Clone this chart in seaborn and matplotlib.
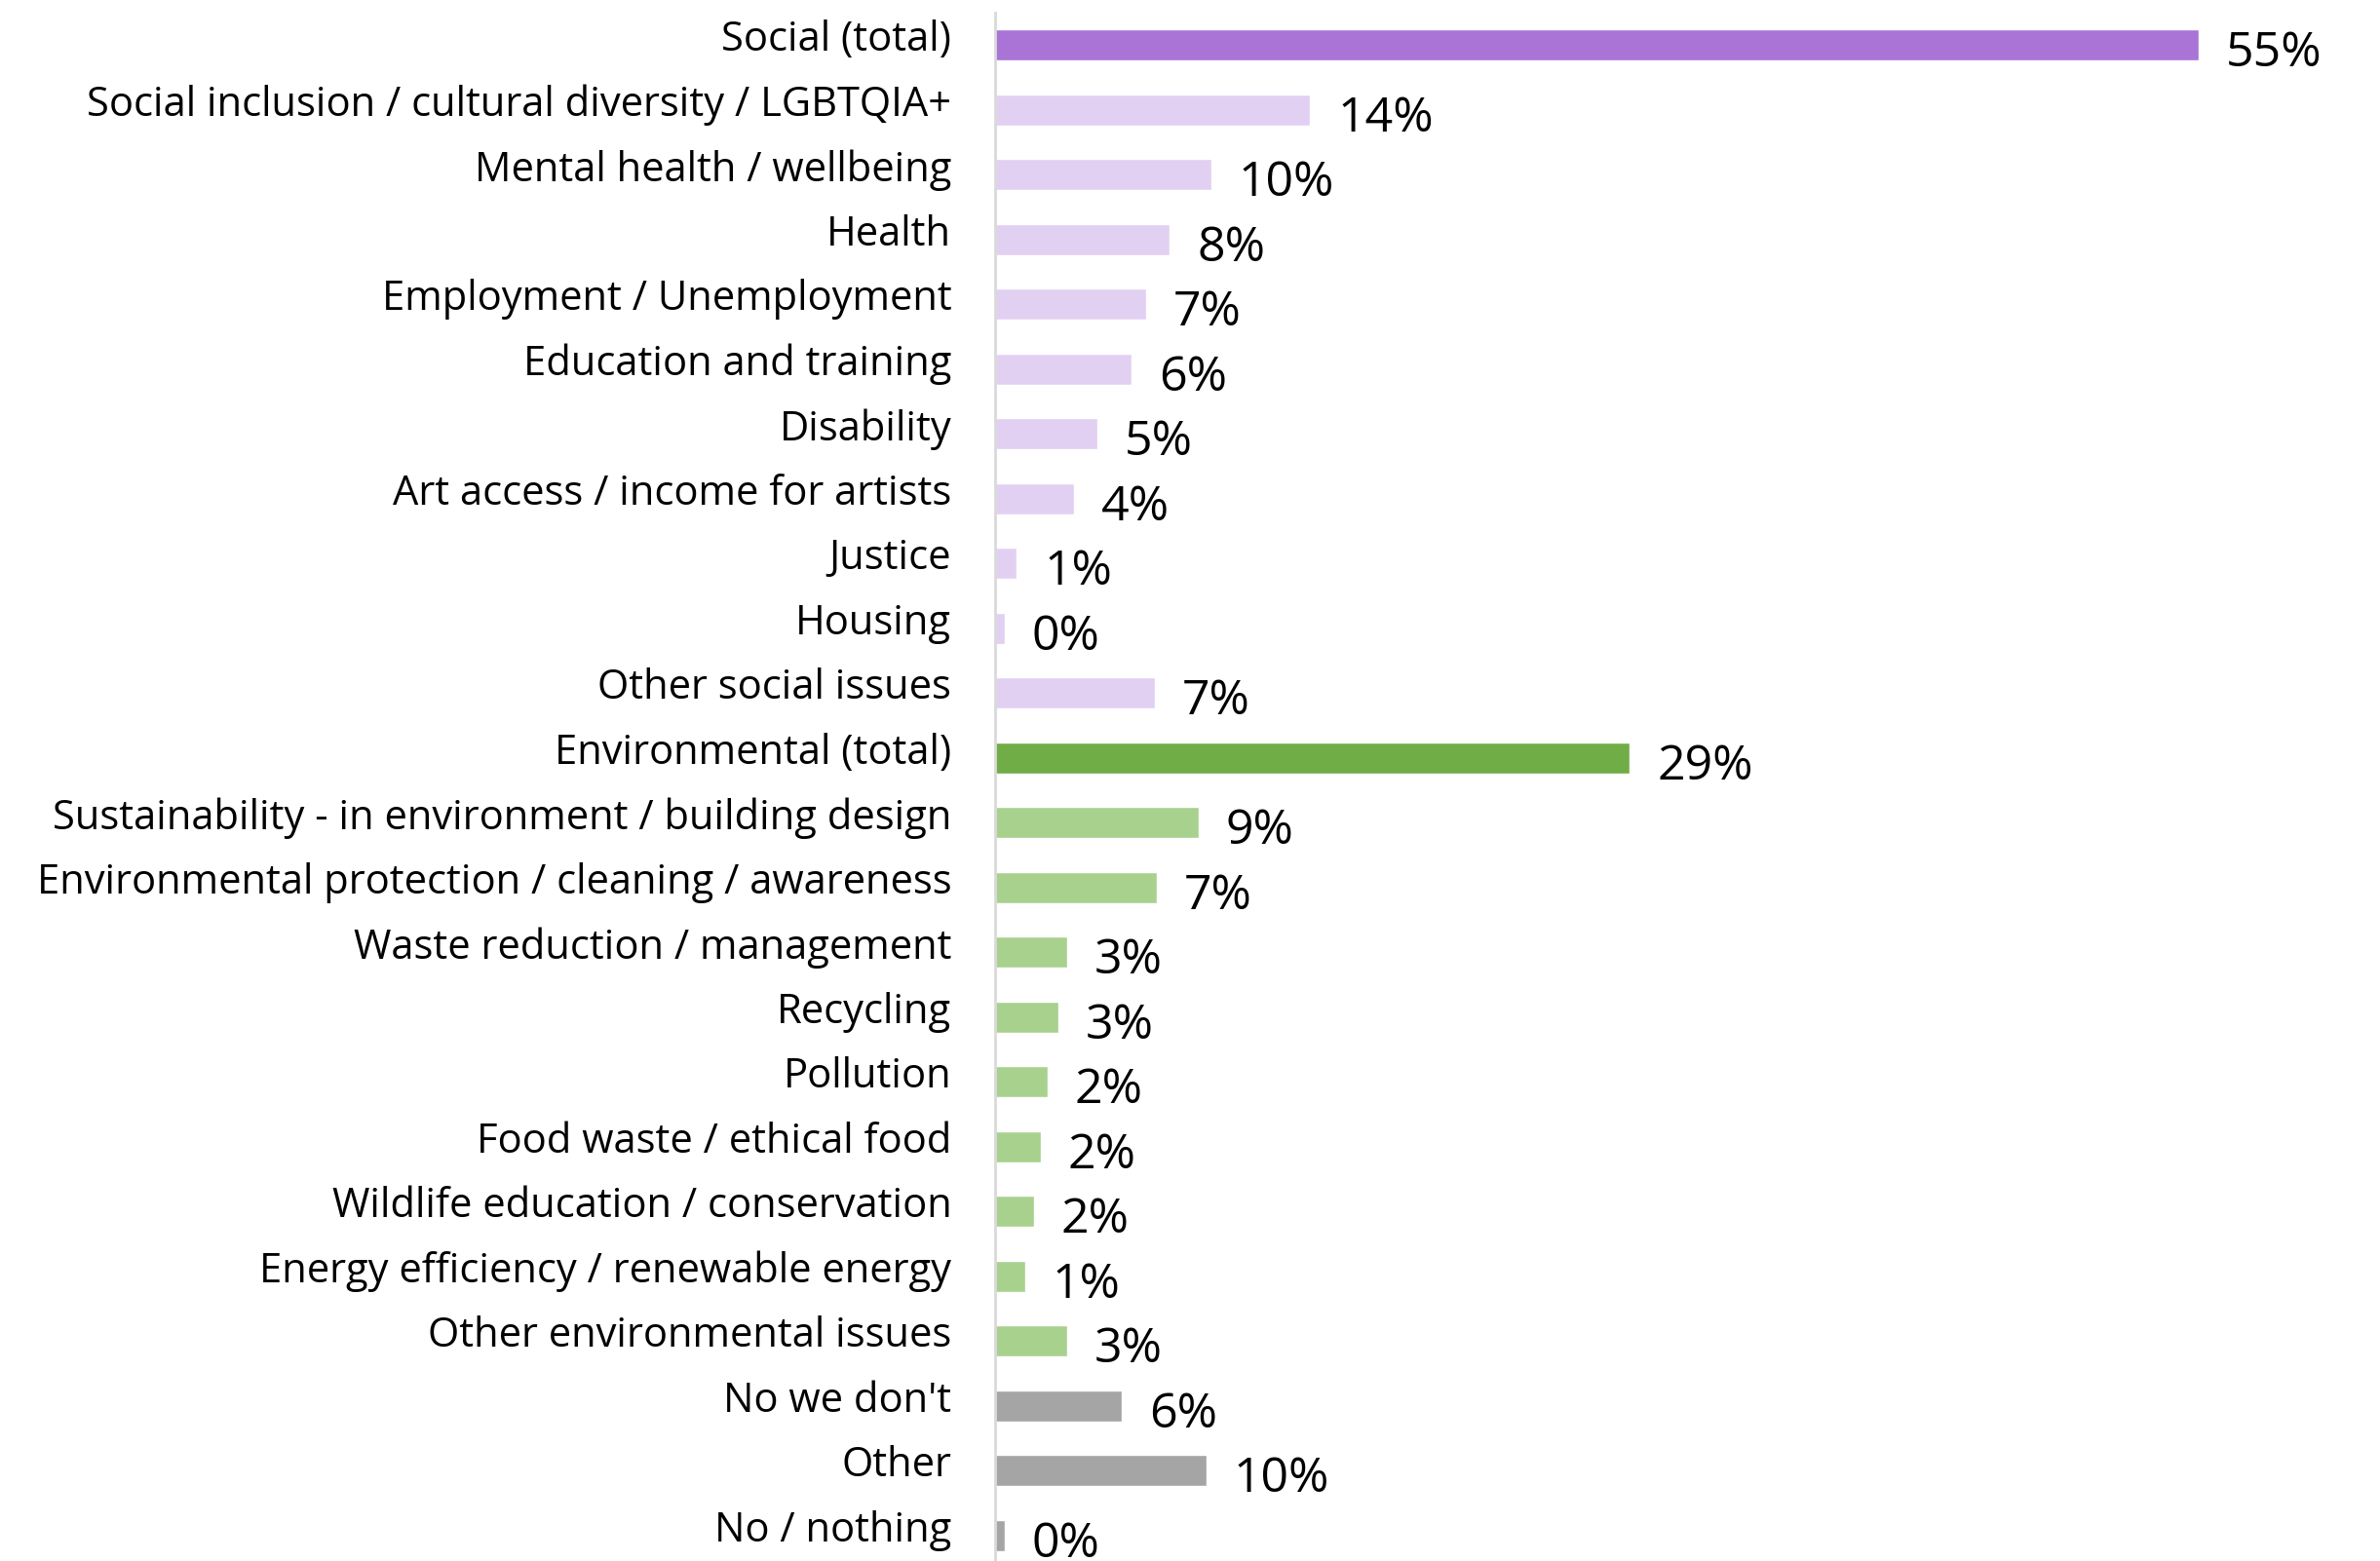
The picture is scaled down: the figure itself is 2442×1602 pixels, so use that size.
import matplotlib
matplotlib.use("Agg")
import matplotlib.pyplot as plt
import matplotlib.transforms as mtransforms
import seaborn as sns
import pandas as pd

categories = [
    "Social (total)",
    "Social inclusion / cultural diversity / LGBTQIA+",
    "Mental health / wellbeing",
    "Health",
    "Employment / Unemployment",
    "Education and training",
    "Disability",
    "Art access / income for artists",
    "Justice",
    "Housing",
    "Other social issues",
    "Environmental (total)",
    "Sustainability - in environment / building design",
    "Environmental protection / cleaning / awareness",
    "Waste reduction / management",
    "Recycling",
    "Pollution",
    "Food waste / ethical food",
    "Wildlife education / conservation",
    "Energy efficiency / renewable energy",
    "Other environmental issues",
    "No we don't",
    "Other",
    "No / nothing",
]

values = [55.0, 14.4, 9.9, 8.0, 6.9, 6.25, 4.7, 3.6, 1.0, 0.45, 7.3,
          29.0, 9.3, 7.4, 3.3, 2.9, 2.4, 2.1, 1.8, 1.4, 3.3,
          5.8, 9.65, 0.45]

groups = (["social_total"] + ["social"] * 10 +
          ["env_total"] + ["env"] * 9 +
          ["other"] * 3)

group_colors = {
    "social_total": "#A974D6",
    "social": "#E2D0F2",
    "env_total": "#70AD47",
    "env": "#A9D18E",
    "other": "#A5A5A5",
}

df = pd.DataFrame({"category": categories, "value": values, "group": groups})
palette = {c: group_colors[g] for c, g in zip(categories, groups)}

sns.set_theme(style="white")
plt.rcParams["font.family"] = ["Open Sans", "DejaVu Sans"]

fig = plt.figure(figsize=(24.42, 16.02), dpi=100)
ax = fig.add_axes([0.418, -0.0044, 0.552, 1596 / 1602])

sns.barplot(data=df, y="category", x="value", hue="category", palette=palette,
            legend=False, width=0.48, orient="h", ax=ax, saturation=1)

ax.set_xlim(0, 60)
ax.set_ylim(len(categories) - 0.5, -0.5)
ax.set_xlabel("")
ax.set_ylabel("")
ax.set_xticks([])

for side in ["top", "right", "bottom"]:
    ax.spines[side].set_visible(False)
ax.spines["left"].set_color("#D9D9D9")
ax.spines["left"].set_linewidth(2)

ax.tick_params(axis="y", length=0, pad=32, labelsize=30, labelcolor="black")
shift = mtransforms.ScaledTranslation(0, 10 / 100, fig.dpi_scale_trans)
for lbl in ax.get_yticklabels():
    lbl.set_transform(lbl.get_transform() + shift)

for i, v in enumerate(values):
    ax.annotate(f"{v:.0f}%", xy=(v, i), xytext=(20, -6.5),
                textcoords="offset points", va="center", ha="left",
                fontsize=36, color="black")

fig.savefig("out.png", dpi=100, facecolor="white")
